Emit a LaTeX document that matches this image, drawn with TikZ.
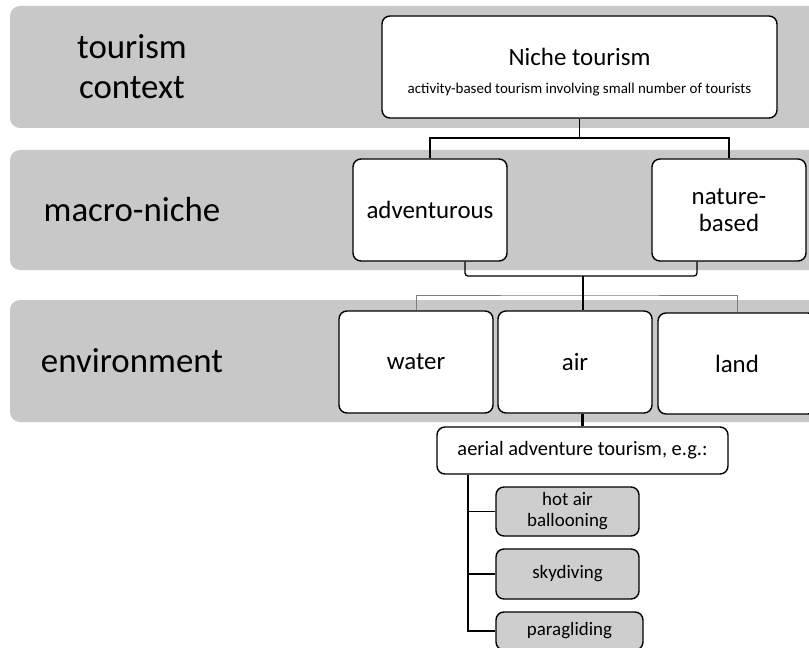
\documentclass[tikz,border=0pt]{standalone}
\usepackage{fontspec}
\setmainfont{Carlito}
\definecolor{bandgray}{RGB}{200,200,200}
\definecolor{leafgray}{RGB}{206,206,206}
\definecolor{wiregray}{RGB}{125,125,125}

\begin{document}
\begin{tikzpicture}[x=1bp,y=-1bp]

    \tikzset{
      BandStyle/.style = { fill = bandgray, rounded corners = 10bp },
      TagStyle/.style = { align = center,
                          font = \fontsize{35}{40}\selectfont },
      BoxStyle/.style = { draw, fill = white, rounded corners = 8bp,
                          line width = 1.4bp, inner sep = 0pt, align = center,
                          font = \fontsize{25}{27}\selectfont },
      LeafStyle/.style = { BoxStyle, fill = leafgray,
                           font = \fontsize{19}{21}\selectfont },
      EdgeStyle/.style = { line width = 1.3bp },
      ThinEdgeStyle/.style = { line width = 1bp, wiregray } }
      \useasboundingbox (0,0) rectangle (809,648);

      \fill[BandStyle] (10,6) rectangle (830,128);
      \fill[BandStyle] (10,150) rectangle (830,270);
      \fill[BandStyle] (10,300) rectangle (830,422);

      \node[TagStyle] (context) at (132,67) {tourism\\context};
      \node[TagStyle] (macro) at (132,210) {macro-niche};
      \node[TagStyle] (environ) at (132,361) {environment};

      \node[BoxStyle, minimum width=395bp, minimum height=102bp] (niche) at (579.5,67)
        {\rule{0pt}{27bp}Niche tourism\\[1bp]{\fontsize{15}{18}\selectfont activity-based tourism involving small number of tourists}};
      \node[BoxStyle, minimum width=154bp, minimum height=102bp] (adv) at (430,210) {adventurous};
      \node[BoxStyle, minimum width=154bp, minimum height=102bp] (nat) at (729,210) {nature-\\based};
      \node[BoxStyle, minimum width=154bp, minimum height=102bp] (water) at (416,362) {water};
      \node[BoxStyle, minimum width=154bp, minimum height=102bp] (air) at (575,362) {air};
      \node[BoxStyle, minimum width=158bp, minimum height=101bp] (land) at (737,363.5) {land};

      \node[BoxStyle, minimum width=291bp, minimum height=47bp,
            font=\fontsize{20.5}{24}\selectfont] (aerial) at (582.5,450.5) {aerial adventure tourism, e.g.:};
      \node[LeafStyle, minimum width=143bp, minimum height=49bp] (balloon) at (567.5,511.5) {hot air\\ballooning};
      \node[LeafStyle, minimum width=143bp, minimum height=50bp] (sky) at (567.5,574) {skydiving};
      \node[LeafStyle, minimum width=147bp, minimum height=38bp] (para) at (569.5,631) {paragliding};

      \coordinate (hub1) at (579.5,138);
      \coordinate (hub2) at (583,276);
      \coordinate (hub3) at (583,295);
      \coordinate (spine) at ([xshift=-114.5bp]aerial.south);

      \draw[EdgeStyle] (niche.south) -- (hub1);
      \draw[EdgeStyle] (adv.north) |- (hub1) -| (nat.north);

      \draw[ThinEdgeStyle] (water.north) |- (hub3) -| (land.north);
      \draw[EdgeStyle, rounded corners=3bp] ([xshift=35bp]adv.south) |- (hub2);
      \draw[EdgeStyle, rounded corners=3bp] ([xshift=-32bp]nat.south) |- (hub2);
      \draw[line width=2.4bp] (hub2) -- (hub2 |- air.north);

      \draw[line width=2.4bp] (aerial.north) -- (aerial.north |- air.south);
      \draw[EdgeStyle] (spine) |- (para.west);
      \foreach \n in {balloon,sky}
        \draw[EdgeStyle] (\n.west) -- (\n.west -| spine);
    \end{tikzpicture}
\end{document}
